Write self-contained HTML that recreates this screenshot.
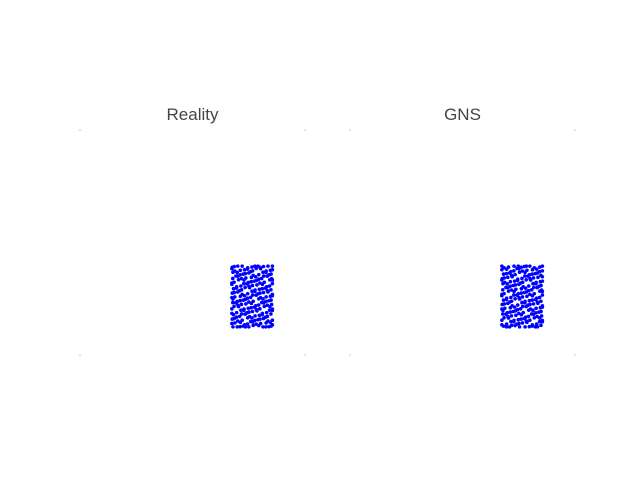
<!DOCTYPE html>
<html><head><meta charset="utf-8"><style>
body{margin:0;background:#fff;width:640px;height:480px;overflow:hidden}
svg{display:block}
</style></head><body>
<svg id="fig" width="640" height="480" xmlns="http://www.w3.org/2000/svg">
<text x="192.5" y="120" text-anchor="middle" font-family="Liberation Sans, sans-serif" font-size="17" fill="#444">Reality</text>
<text x="462.5" y="120" text-anchor="middle" font-family="Liberation Sans, sans-serif" font-size="17" fill="#444">GNS</text>
<g id="p1"></g>
<g id="p2"></g>
</svg>
<script>
// particle block extent (data coords, 0..1 domain)
const blockX = [0.675, 0.855];
const blockY = [0.125, 0.395];
const gridCols = [12];
const gridRows = [17];
const jitterA = [0.3, -0.4, 0.1, 0.45, -0.2, -0.35, 0.25];
const jitterB = [-0.3, 0.2, 0.4, -0.1, -0.45, 0.35, 0.05, -0.25];
const panels = [{id:'p1', x0:80, name:'reality'}, {id:'p2', x0:350, name:'gns'}];
const NS='http://www.w3.org/2000/svg';
panels.forEach((p,pi)=>{
  const g=document.getElementById(p.id);
  const sx=v=>p.x0+v*225, sy=v=>355-v*225;
  [[0,0],[1,0],[0,1],[1,1]].forEach(c=>{
    const r=document.createElementNS(NS,'rect');
    
    
    r.setAttribute('x',sx(c[0])-1);r.setAttribute('y',sy(c[1])-1);
    r.setAttribute('width',2);r.setAttribute('height',2);r.setAttribute('fill','#e4e4e4');
    g.appendChild(r);
  });
  const nc=gridCols[0], nr=gridRows[0];
  const dx=(blockX[1]-blockX[0])/(nc-1), dy=(blockY[1]-blockY[0])/(nr-1);
  let k=0;
  for(let i=0;i<nc;i++)for(let j=0;j<nr;j++){
    const jx=jitterA[(k+pi*3)%jitterA.length]*dx, jy=jitterB[(k*3+pi)%jitterB.length]*dy;
    k++;
    const x=Math.min(blockX[1],Math.max(blockX[0],blockX[0]+i*dx+jx));
    const y=Math.min(blockY[1],Math.max(blockY[0],blockY[0]+j*dy+jy));
    const c=document.createElementNS(NS,'circle');
    
    
    c.setAttribute('cx',sx(x));c.setAttribute('cy',sy(y));c.setAttribute('r',1.8);
    c.setAttribute('fill','#0000ff');
    g.appendChild(c);
  }
});
</script>
</body></html>
